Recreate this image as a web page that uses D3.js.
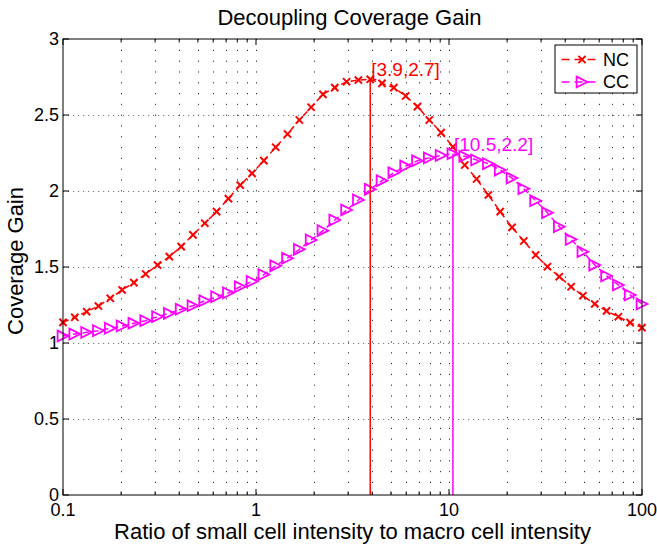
<!DOCTYPE html>
<html>
<head>
<meta charset="utf-8">
<script src="https://cdn.jsdelivr.net/npm/d3@7/dist/d3.min.js"></script>
<style>
  body { margin: 0; background: #fff; }
  svg { display: block; font-family: 'Liberation Sans', Arial, Helvetica, sans-serif; }
</style>
</head>
<body>
<div id="chart"></div>
<script>
// x sweep (ratio of small cell to macro cell intensity), 50 points per series
const ratio = [
  0.1, 0.1151, 0.1326, 0.1526, 0.1758, 0.2024, 0.2330, 0.2683, 0.3089, 0.3556,
  0.4095, 0.4715, 0.5429, 0.6251, 0.7197, 0.8286, 0.9541, 1.0985, 1.2649, 1.4563,
  1.6768, 1.9307, 2.2230, 2.5595, 2.9471, 3.3932, 3.9069, 4.4984, 5.1795, 5.9636,
  6.8665, 7.9060, 9.1030, 10.4811, 12.0679, 13.8950, 15.9986, 18.4207, 21.2095, 24.4205,
  28.1177, 32.3746, 37.2759, 42.9193, 49.4171, 56.8987, 65.5129, 75.4312, 86.8511, 100
]
const ncGain = [
  1.136, 1.169, 1.206, 1.243, 1.294, 1.349, 1.397, 1.454, 1.513, 1.568,
  1.634, 1.711, 1.788, 1.864, 1.950, 2.039, 2.116, 2.200, 2.288, 2.375,
  2.467, 2.551, 2.636, 2.680, 2.719, 2.730, 2.735, 2.708, 2.680, 2.625,
  2.555, 2.467, 2.384, 2.290, 2.171, 2.079, 1.974, 1.864, 1.761, 1.671,
  1.579, 1.502, 1.436, 1.370, 1.311, 1.257, 1.211, 1.173, 1.134, 1.101
]
const ccGain = [
  1.046, 1.059, 1.070, 1.081, 1.097, 1.112, 1.130, 1.147, 1.173, 1.195,
  1.222, 1.245, 1.278, 1.305, 1.330, 1.370, 1.405, 1.450, 1.508, 1.558,
  1.616, 1.678, 1.739, 1.809, 1.875, 1.941, 2.011, 2.068, 2.120, 2.164,
  2.199, 2.218, 2.234, 2.245, 2.228, 2.204, 2.180, 2.138, 2.085, 2.015,
  1.936, 1.857, 1.765, 1.682, 1.601, 1.513, 1.441, 1.382, 1.316, 1.257
]
const seriesNames = ['NC', 'CC']
const peakLabels = ['[3.9,2.7]', '[10.5,2.2]']
const xTicks = [0.1, 1, 10, 100]
const xTickLabels = ['0.1', '1', '10', '100']
const yTicks = [0, 0.5, 1, 1.5, 2, 2.5, 3]
const yTickLabels = ['0', '0.5', '1', '1.5', '2', '2.5', '3']

const width = 657
const height = 550
const margins = {top: 39, left: 63, right: 15, bottom: 55}
const colors = ['#ff0000', '#ff00ff']

const series = [ncGain, ccGain].map((vals, i) => ({
  name: seriesNames[i],
  color: colors[i],
  points: vals.map((v, j) => ({x: ratio[j], y: v}))
}))

let x = d3.scaleLog().domain([0.1, 100]).range([margins.left, width - margins.right])
let y = d3.scaleLinear().domain([0, 3]).range([height - margins.bottom, margins.top])

let svg = d3.select('#chart')
  .append('svg')
    .attr('width', width)
    .attr('height', height)

function xStart () { return margins.left }
function xEnd () { return width - margins.right }
function yStart () { return margins.top }
function yEnd () { return height - margins.bottom }

function renderGrid () {
  let g = svg.append('g').classed('grid', true)
  // minor + major decades on the log axis
  g.selectAll('line.vgrid')
    .data(x.ticks().filter(d => d > 0.1 && d < 100))
    .enter().append('line')
      .classed('vgrid', true)
      .attr('x1', d => Math.round(x(d)) + 0.5)
      .attr('x2', d => Math.round(x(d)) + 0.5)
      .attr('y1', yStart())
      .attr('y2', yEnd())
      .attr('stroke', '#333')
      .attr('stroke-dasharray', '1.2,9.6')
  g.selectAll('line.hgrid')
    .data(yTicks.filter(d => d > 0 && d < 3))
    .enter().append('line')
      .classed('hgrid', true)
      .attr('x1', xStart())
      .attr('x2', xEnd())
      .attr('y1', d => Math.round(y(d)) + 0.5)
      .attr('y2', d => Math.round(y(d)) + 0.5)
      .attr('stroke', '#777')
      .attr('stroke-dasharray', '1.2,3.8')
}

function crossPath (s) {
  return 'M' + (-s) + ',' + (-s) + 'L' + s + ',' + s + 'M' + (-s) + ',' + s + 'L' + s + ',' + (-s)
}

function trianglePath (s) {
  return 'M' + (-s) + ',' + (-s) + 'L' + s + ',0L' + (-s) + ',' + s + 'Z'
}

function markerPath (i) {
  return i === 0 ? crossPath(3.6) : trianglePath(5.4)
}

function renderSeries () {
  let line = d3.line().x(d => x(d.x)).y(d => y(d.y))
  let g = svg.append('g').classed('series', true)
  series.forEach((s, i) => {
    g.append('path')
      .datum(s.points)
      .attr('d', line)
      .attr('fill', 'none')
      .attr('stroke', s.color)
      .attr('stroke-width', 1.5)
      .attr('stroke-dasharray', '6,4')
    g.selectAll('path.m' + i)
      .data(s.points)
      .enter().append('path')
        .classed('m' + i, true)
        .attr('transform', d => 'translate(' + x(d.x) + ',' + y(d.y) + ')')
        .attr('d', markerPath(i))
        .attr('fill', 'none')
        .attr('stroke', s.color)
        .attr('stroke-width', i === 0 ? 2 : 1.8)
  })
}

function renderPeaks () {
  let g = svg.append('g').classed('peaks', true)
  series.forEach((s, i) => {
    const p = s.points[d3.maxIndex(s.points, d => d.y)]
    g.append('line')
      .attr('x1', x(p.x))
      .attr('x2', x(p.x))
      .attr('y1', y(p.y))
      .attr('y2', y(0))
      .attr('stroke', s.color)
      .attr('stroke-width', 1.5)
    g.append('text')
      .attr('x', x(p.x) + 1)
      .attr('y', y(p.y) - 3)
      .attr('fill', s.color)
      .attr('font-size', 19)
      .text(peakLabels[i])
  })
}

function renderAxes () {
  let g = svg.append('g').classed('axes', true)
  g.append('rect')
    .attr('x', xStart())
    .attr('y', yStart())
    .attr('width', xEnd() - xStart())
    .attr('height', yEnd() - yStart())
    .attr('fill', 'none')
    .attr('stroke', '#000')

  // inward ticks on all four sides
  const xAll = x.ticks()
  g.selectAll('line.xt')
    .data(xAll.flatMap(d => [{v: d, y0: yEnd(), dir: -1}, {v: d, y0: yStart(), dir: 1}]))
    .enter().append('line')
      .classed('xt', true)
      .attr('x1', d => x(d.v))
      .attr('x2', d => x(d.v))
      .attr('y1', d => d.y0)
      .attr('y2', d => d.y0 + d.dir * (xTicks.includes(d.v) ? 6 : 3.5))
      .attr('stroke', '#000')
  g.selectAll('line.yt')
    .data(yTicks.flatMap(d => [{v: d, x0: xStart(), dir: 1}, {v: d, x0: xEnd(), dir: -1}]))
    .enter().append('line')
      .classed('yt', true)
      .attr('x1', d => d.x0)
      .attr('x2', d => d.x0 + d.dir * 6)
      .attr('y1', d => y(d.v))
      .attr('y2', d => y(d.v))
      .attr('stroke', '#000')

  g.selectAll('text.xl')
    .data(xTicks)
    .enter().append('text')
      .classed('xl', true)
      .attr('x', d => x(d))
      .attr('y', yEnd() + 21)
      .attr('text-anchor', 'middle')
      .attr('font-size', 18)
      .text((d, i) => xTickLabels[i])
  g.selectAll('text.yl')
    .data(yTicks)
    .enter().append('text')
      .classed('yl', true)
      .attr('x', xStart() - 4)
      .attr('y', d => y(d))
      .attr('dy', '0.33em')
      .attr('text-anchor', 'end')
      .attr('font-size', 18)
      .text((d, i) => yTickLabels[i])

  svg.append('text')
    .attr('x', (xStart() + xEnd()) / 2 - 3)
    .attr('y', 25)
    .attr('text-anchor', 'middle')
    .attr('font-size', 22)
    .text('Decoupling Coverage Gain')
  svg.append('text')
    .attr('x', (xStart() + xEnd()) / 2)
    .attr('y', height - 11)
    .attr('text-anchor', 'middle')
    .attr('font-size', 22)
    .text('Ratio of small cell intensity to macro cell intensity')
  svg.append('text')
    .attr('transform', 'translate(' + 22.5 + ',' + ((yStart() + yEnd()) / 2 - 6) + ') rotate(-90)')
    .attr('text-anchor', 'middle')
    .attr('font-size', 22)
    .text('Coverage Gain')
}

function renderLegend () {
  let g = svg.append('g')
    .classed('legend', true)
    .attr('transform', 'translate(' + (xEnd() - 87) + ',' + (yStart() + 6) + ')')
  g.append('rect')
    .attr('width', 82)
    .attr('height', 48)
    .attr('fill', '#fff')
    .attr('stroke', '#000')
  series.forEach((s, i) => {
    const row = 14.5 + i * 22.5
    g.append('line')
      .attr('x1', 6.5)
      .attr('x2', 44)
      .attr('y1', row)
      .attr('y2', row)
      .attr('stroke', s.color)
      .attr('stroke-width', 1.5)
      .attr('stroke-dasharray', '8,5')
    g.append('path')
      .attr('transform', 'translate(' + 27 + ',' + row + ')')
      .attr('d', markerPath(i))
      .attr('fill', 'none')
      .attr('stroke', s.color)
      .attr('stroke-width', i === 0 ? 2 : 1.8)
    g.append('text')
      .attr('x', 48)
      .attr('y', row)
      .attr('dy', '0.36em')
      .attr('font-size', 18)
      .text(s.name)
  })
}

renderGrid()
renderSeries()
renderPeaks()
renderAxes()
renderLegend()
</script>
</body>
</html>
